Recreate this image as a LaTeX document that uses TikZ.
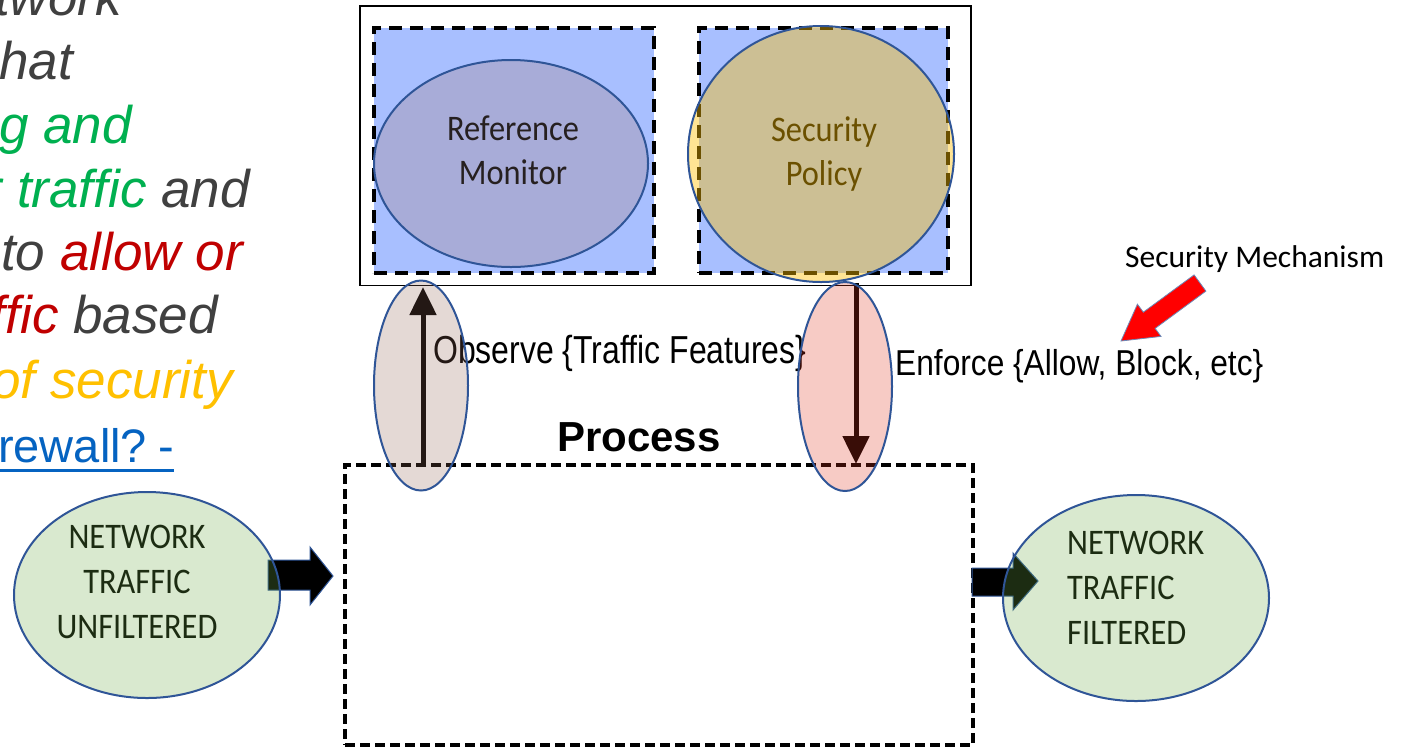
\documentclass[tikz,border=0pt]{standalone}
\usepackage{fontspec}
\usetikzlibrary{shapes.geometric,arrows.meta}
\newfontfamily\lsans{Liberation Sans}
\newfontfamily\calib{Carlito}[FakeStretch=0.9]
\newfontfamily\calibn{Carlito}
\newfontfamily\obsfont{Liberation Sans}[FakeStretch=0.82]
\newfontfamily\enffont{Liberation Sans}[FakeStretch=0.88]
\definecolor{tgrey}{HTML}{404040}
\definecolor{tgreen}{HTML}{00B050}
\definecolor{tred}{HTML}{C00000}
\definecolor{tgold}{HTML}{FFC000}
\definecolor{tblue}{HTML}{0563C1}
\definecolor{boxblue}{HTML}{A8BFFF}
\definecolor{rmfill}{HTML}{A8ACD8}
\definecolor{rmtext}{HTML}{262020}
\definecolor{eblue}{HTML}{2F5597}
\definecolor{spfill}{HTML}{FFC000}
\definecolor{obsfill}{HTML}{906356}
\definecolor{enffill}{HTML}{E3331F}
\definecolor{grfill}{HTML}{70AD47}
\definecolor{arrred}{HTML}{FF0000}
\begin{document}
\begin{tikzpicture}[x=1pt,y=-1pt,
  lefttxt/.style={anchor=base east, inner sep=0, font=\lsans\itshape\fontsize{53}{64}\selectfont},
  dbox/.style={draw=black, line width=4pt, dash pattern=on 13pt off 8pt, fill=boxblue, minimum height=245pt, inner sep=0},
  pbox/.style={draw=black, line width=3.5pt, dash pattern=on 10pt off 5pt, inner sep=0},
  ell/.style={ellipse, draw=eblue, line width=2pt, inner sep=0},
  celltxt/.style={font=\calib\fontsize{36}{44}\selectfont, align=center, inner sep=0},
  flow/.style={line width=5pt, -{Triangle[length=28pt,width=26pt]}},
  blockarr/.style={fill=black, draw=eblue, line width=1pt}
]
\useasboundingbox (0,0) rectangle (1402,748);
\fill[white] (0,0) rectangle (1402,748);

% left text fragment
\node[lefttxt] (t1) at (122,15) {\color{tgrey}twork};
\node[lefttxt] (t2) at (73,79) {\color{tgrey}hat};
\node[lefttxt] (t3) at (132,143) {\color{tgreen}g and};
\node[lefttxt] (t4) at (250,207) {\color{tgreen}r traffic \color{tgrey}and};
\node[lefttxt] (t5) at (243,270) {\color{tgrey}to \color{tred}allow or};
\node[lefttxt] (t6) at (218,333) {\color{tred}ffic \color{tgrey}based};
\node[lefttxt] (t7) at (233,398) {\color{tgold}of security};
\node[anchor=base east, inner sep=0, font=\lsans\fontsize{47}{60}\selectfont, text=tblue] (t8) at (174,462) {rewall?\kern-2pt\ -};
\draw[tblue, line width=3pt] ([yshift=-8pt]t8.base west) -- ([yshift=-8pt]t8.base east);

% top container
\node[draw=black, line width=1.5pt, minimum width=611pt, minimum height=279.5pt, inner sep=0] (outer) at (665.5,145.75) {};
\node[dbox, minimum width=280pt] (rmbox) at (514,150.5) {};
\node[dbox, minimum width=249pt] (spbox) at (823.5,150.5) {};
\node[ell, fill=rmfill, minimum width=274pt, minimum height=207pt] (rm) at (511,163.5) {};
\node[celltxt, text=rmtext] (rmtxt) at (513,150.5) {Reference\\Monitor};
\node[celltxt, text=black] (sptxt) at (824,154) {Security\\Policy};
\node[ell, fill=spfill, fill opacity=0.42, minimum width=266pt, minimum height=256pt] (sp) at (821,154) {};

% process
\node[pbox, minimum width=628pt, minimum height=280pt] (proc) at (659,605) {};
\node[anchor=base west, inner sep=0, font=\lsans\bfseries\fontsize{42}{50}\selectfont] (proctxt) at (557,451) {Process};

% labels
\node[anchor=base west, inner sep=0, font=\obsfont\fontsize{39}{47}\selectfont] (obs) at (433,363) {Observe \{Traffic Features\}};
\node[anchor=base west, inner sep=0, font=\enffont\fontsize{36}{43}\selectfont] (enf) at (895,375) {Enforce \{Allow, Block, etc\}};
\node[anchor=base west, inner sep=0, font=\calibn\fontsize{31.5}{38}\selectfont] (secmech) at (1125,267) {Security Mechanism};

% vertical flows
\coordinate (obsA) at (423,465);
\coordinate (obsB) at (423,287);
\coordinate (enfA) at (856,283);
\coordinate (enfB) at (856,464);
\draw[flow] (obsA) -- (obsB);
\draw[flow] (enfA) -- (enfB);
\node[ell, fill=obsfill, fill opacity=0.243, minimum width=94pt, minimum height=210pt] (obsell) at (421,385.5) {};
\node[ell, fill=enffill, fill opacity=0.255, minimum width=94pt, minimum height=209pt] (enfell) at (845,386.5) {};

% red arrow (security mechanism pointer)
\fill[arrred, draw=eblue!70, line width=0.8pt] (1205.9,291.1) -- (1155.1,328.4) -- (1161.0,336.4) -- (1121,341) -- (1137.4,304.2) -- (1143.3,312.2) -- (1194.1,274.9) -- cycle;

% block arrows
\filldraw[blockarr] (268,560) -- (310,560) -- (310,547) -- (333,576) -- (310,605) -- (310,590) -- (268,590) -- cycle;
\filldraw[blockarr] (972,568) -- (1013,568) -- (1013,553) -- (1038,581) -- (1013,610) -- (1013,596) -- (972,596) -- cycle;

% network traffic ellipses
\node[celltxt, font=\calib\fontsize{36}{45}\selectfont, text=black] (ntu) at (137,581.5) {NETWORK\\TRAFFIC\\UNFILTERED};
\node[ell, fill=grfill, fill opacity=0.26, minimum width=266pt, minimum height=206pt] (unf) at (147,595) {};
\node[inner sep=0, anchor=west, align=left, font=\calib\fontsize{36}{45}\selectfont, text=black] (ntf) at (1067,588) {NETWORK\\TRAFFIC\\FILTERED};
\node[ell, fill=grfill, fill opacity=0.26, minimum width=266pt, minimum height=206pt] (filt) at (1136,598) {};
\end{tikzpicture}
\end{document}
